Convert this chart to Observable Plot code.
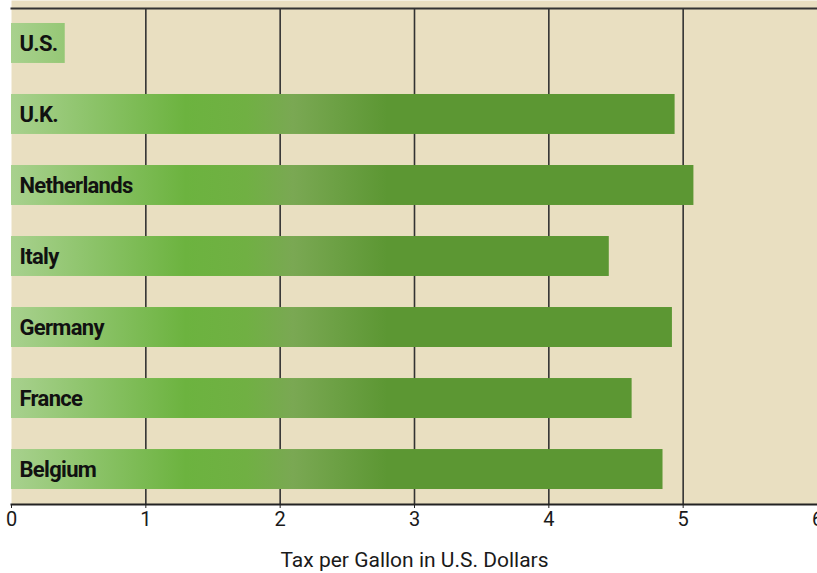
<!DOCTYPE html>
<html><head><meta charset="utf-8">
<script src="https://cdn.jsdelivr.net/npm/d3@7"></script>
<script src="https://cdn.jsdelivr.net/npm/@observablehq/plot@0.6"></script>
<style>html,body{margin:0;padding:0;background:#fff;overflow:hidden}</style>
</head><body><div id="chart"></div>
<script>
const countries = ["U.S.", "U.K.", "Netherlands", "Italy", "Germany", "France", "Belgium"];
const taxes = [0.40, 4.94, 5.08, 4.45, 4.92, 4.62, 4.85];
const xTicks = [0, 1, 2, 3, 4, 5, 6];
const gridValues = [1, 2, 3, 4, 5];
const xLabel = "Tax per Gallon in U.S. Dollars";
const gradientValues = [0, 1.3, 1.75, 2.1, 2.8, 6];
const gradientColors = ["#a8d18e", "#6cb33f", "#70b043", "#7aa853", "#5c9733", "#5c9733"];

const data = countries.map((c, i) => ({country: c, tax: taxes[i]}));
const font = "Roboto, 'Liberation Sans', sans-serif";

const chart = Plot.plot({
  width: 817,
  height: 573,
  marginLeft: 11,
  marginRight: 0,
  marginTop: 8,
  marginBottom: 69,
  style: {fontFamily: font, background: "#fff", color: "#1a1a1a"},
  x: {domain: [0, 6]},
  y: {domain: countries, paddingInner: 0.437, paddingOuter: 0.211, round: false, axis: null},
  marks: [
    Plot.frame({fill: "#e9dfc1", insetTop: -8}),
    Plot.ruleX(gridValues, {stroke: "#333", strokeWidth: 1.6}),
    Plot.barX(data, {x: "tax", y: "country", fill: "url(#barGrad)"}),
    Plot.text(data, {y: "country", text: "country", frameAnchor: "left", textAnchor: "start", dx: 8, fontWeight: "bold", fontSize: 22, fill: "#111"}),
    Plot.frame({anchor: "top", stroke: "#333", strokeWidth: 2}),
    Plot.frame({anchor: "bottom", stroke: "#222", strokeWidth: 2}),
    Plot.axisX({ticks: xTicks, tickFormat: "d", tickSize: 4, tickPadding: 3, fontSize: 20, label: null, stroke: "#222", fill: "#1a1a1a"}),
    Plot.axisX({ticks: [], tickSize: 0, label: xLabel, labelAnchor: "center", labelArrow: "none", labelOffset: 62, fontSize: 21, fill: "#1a1a1a"})
  ]
});

const x = chart.scale("x");
const ns = "http://www.w3.org/2000/svg";
const defs = document.createElementNS(ns, "defs");
const grad = document.createElementNS(ns, "linearGradient");
grad.setAttribute("id", "barGrad");
grad.setAttribute("gradientUnits", "userSpaceOnUse");
grad.setAttribute("x1", x.apply(0));
grad.setAttribute("x2", x.apply(6));
grad.setAttribute("y1", 0);
grad.setAttribute("y2", 0);
gradientValues.forEach((v, i) => {
  const s = document.createElementNS(ns, "stop");
  s.setAttribute("offset", v / 6);
  s.setAttribute("stop-color", gradientColors[i]);
  grad.appendChild(s);
});
defs.appendChild(grad);
chart.insertBefore(defs, chart.firstChild);
chart.querySelectorAll("text").forEach(t => { if (t.closest("g[aria-label='text']")) t.style.letterSpacing = "-0.7px"; });
document.getElementById("chart").appendChild(chart);
</script>
</body></html>
